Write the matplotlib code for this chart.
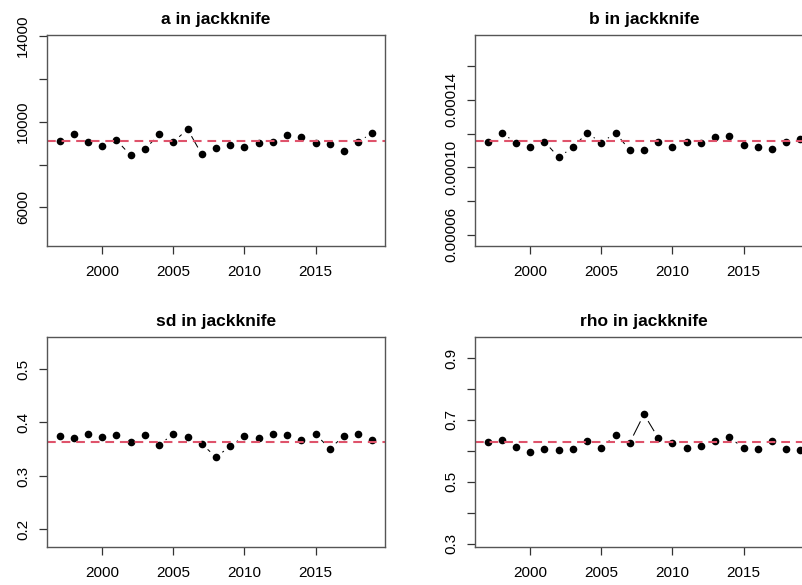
import numpy as np
import matplotlib
matplotlib.use('Agg')
import matplotlib.pyplot as plt

# jackknife estimates, one per left-out year
years = list(range(1997, 2020))

a_jack = [9109, 9446, 9049, 8863, 9140, 8430, 8707, 9418, 9049, 9649, 8476, 8772,
          8910, 8818, 8984, 9049, 9386, 9307, 8984, 8956, 8633, 9049, 9492]
b_jack = [0.0001152, 0.0001204, 0.0001146, 0.0001118, 0.0001152, 0.0001060, 0.0001118,
          0.0001204, 0.0001146, 0.0001204, 0.0001102, 0.0001104, 0.0001152, 0.0001118,
          0.0001152, 0.0001146, 0.0001180, 0.0001188, 0.0001134, 0.0001118, 0.0001106,
          0.0001148, 0.0001168]
sd_jack = [0.3747, 0.3704, 0.3778, 0.3735, 0.3759, 0.3635, 0.3759, 0.3587, 0.3778, 0.3735,
           0.3599, 0.3352, 0.3556, 0.3747, 0.3704, 0.3778, 0.3765, 0.3667, 0.3778, 0.3513,
           0.3747, 0.3778, 0.3680]
rho_jack = [0.6275, 0.6350, 0.6134, 0.5950, 0.6048, 0.6015, 0.6048, 0.6308, 0.6102, 0.6502,
            0.6264, 0.7184, 0.6416, 0.6264, 0.6080, 0.6167, 0.6308, 0.6448, 0.6080, 0.6048,
            0.6308, 0.6048, 0.6026]

# full-data estimates (red dashed line)
a_full = 9123
b_full = 0.0001159
sd_full = 0.3635
rho_full = 0.6286

titles = ['a in jackknife', 'b in jackknife', 'sd in jackknife', 'rho in jackknife']
y_ticks = [[6000, 8000, 10000, 12000, 14000],
           [0.00006, 0.00008, 0.00010, 0.00012, 0.00014, 0.00016],
           [0.2, 0.3, 0.4, 0.5],
           [0.3, 0.4, 0.5, 0.6, 0.7, 0.8, 0.9]]
y_labels = [['6000', '', '10000', '', '14000'],
            ['0.00006', '', '0.00010', '', '0.00014', ''],
            ['0.2', '0.3', '0.4', '0.5'],
            ['0.3', '', '0.5', '', '0.7', '', '0.9']]
x_ticks = [2000, 2005, 2010, 2015]

plt.rcParams['font.family'] = ['Liberation Sans', 'DejaVu Sans']

W, H = 803, 585
fig = plt.figure(figsize=(W / 100, H / 100), dpi=100)

# axes boxes in pixels: left, top, right, bottom
boxes = [(47, 35, 385, 246), (475, 35, 813, 246),
         (47, 337, 385, 547), (475, 337, 813, 547)]

series = [(a_jack, a_full), (b_jack, b_full), (sd_jack, sd_full), (rho_jack, rho_full)]
red = '#DF536B'
box_col = '#555555'
gap = 8.5  # px gap around points, like R type="b"


def r_range(lo, hi):
    pad = (hi - lo) * 0.04
    return lo - pad, hi + pad


for i, (vals, full) in enumerate(series):
    l, t, r, b = boxes[i]
    ax = fig.add_axes([l / W, 1 - b / H, (r - l) / W, (b - t) / H])
    ax.set_xlim(*r_range(years[0], years[-1]))
    ax.set_ylim(*r_range(full * 0.5, full * 1.5))

    # lines between points with gaps around each point
    pix = ax.transData.transform(np.column_stack([years, vals]))
    inv = ax.transData.inverted()
    for p0, p1 in zip(pix[:-1], pix[1:]):
        d = p1 - p0
        n = np.hypot(*d)
        if n <= 2 * gap:
            continue
        u = d / n
        q = inv.transform(np.array([p0 + u * gap, p1 - u * gap]))
        ax.plot(q[:, 0], q[:, 1], color='black', lw=0.75)

    ax.plot(years, vals, 'o', color='black', ms=5.5, mew=0)
    ax.axhline(full, color=red, lw=1.5, dashes=(4.2, 2.8))

    ax.set_title(titles[i], fontsize=12.5, fontweight='bold', pad=8)
    ax.set_xticks(x_ticks)
    ax.set_xticklabels([str(x) for x in x_ticks])
    ax.set_yticks(y_ticks[i])
    ax.set_yticklabels(y_labels[i], rotation=90, va='center')
    ax.tick_params(axis='both', length=6, width=0.9, color='#333333',
                   labelsize=11, labelcolor='black')
    ax.tick_params(axis='x', pad=8)
    ax.tick_params(axis='y', pad=6)
    for s in ax.spines.values():
        s.set_color(box_col)
        s.set_linewidth(1.0)

fig.savefig('out.png', dpi=100)
